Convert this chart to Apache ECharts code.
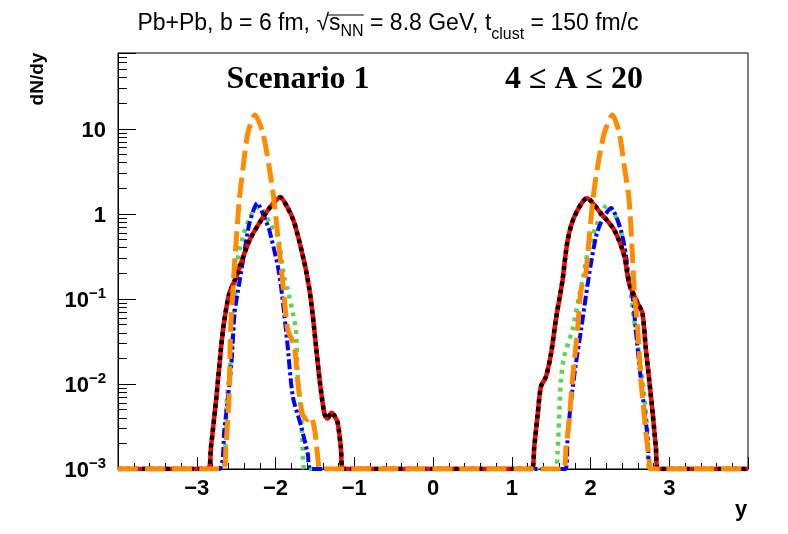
<!DOCTYPE html>
<html>
<head>
<meta charset="utf-8">
<script src="https://cdn.jsdelivr.net/npm/echarts@6/dist/echarts.min.js"></script>
<style>
  html, body { margin: 0; padding: 0; background: #fff; }
  #chart { width: 788px; height: 534px; }
</style>
</head>
<body>
<div id="chart"></div>
<script>
// dN/dy vs y, pairs [y, dN/dy]; 0 means empty bin (drawn on the floor)
var Y_MIN = 0.001, Y_MAX = 78;

var redLeft = [[-2.86,0],[-2.82,0.0018],[-2.75,0.0071],[-2.69,0.0275],[-2.65,0.056],[-2.585,0.117],
  [-2.5,0.18],[-2.44,0.26],[-2.33,0.49],[-2.18,0.85],[-2.05,1.26],[-1.94,1.57],[-1.85,1.2],
  [-1.76,0.78],[-1.63,0.26],[-1.57,0.13],[-1.53,0.068],[-1.485,0.0275],[-1.44,0.0112],
  [-1.38,0.0045],[-1.34,0.0039],[-1.29,0.0046],[-1.25,0.0042],[-1.21,0.0035],[-1.17,0.0018],[-1.14,0]];
var redRight = [[1.25,0],[1.285,0.0018],[1.33,0.0045],[1.37,0.0093],[1.435,0.0122],[1.5,0.023],
  [1.56,0.057],[1.625,0.128],[1.645,0.166],[1.71,0.49],[1.795,0.93],[1.955,1.53],[2.13,1.02],
  [2.3,0.65],[2.43,0.32],[2.49,0.153],[2.6,0.089],[2.66,0.068],[2.7,0.0275],[2.745,0.0112],
  [2.79,0.0045],[2.83,0.0018],[2.86,0]];

var orangeLeft = [[-2.66,0],[-2.63,0.0018],[-2.59,0.0071],[-2.57,0.044],[-2.54,0.128],[-2.52,0.26],
  [-2.46,1.46],[-2.415,3.3],[-2.35,9.0],[-2.26,14.6],[-2.16,8.9],[-2.08,3.55],[-2.02,1.46],
  [-1.93,0.24],[-1.89,0.106],[-1.845,0.044],[-1.76,0.0275],[-1.72,0.0112],[-1.66,0.0045],
  [-1.6,0.0038],[-1.55,0.0041],[-1.5,0.0028],[-1.46,0.0013],[-1.43,0]];
var orangeRight = [[1.65,0],[1.69,0.0018],[1.73,0.0038],[1.77,0.0112],[1.835,0.043],[1.88,0.128],
  [1.94,0.2],[1.985,0.54],[2.03,1.46],[2.09,3.6],[2.175,8.9],[2.28,14.6],[2.365,8.9],[2.43,3.6],
  [2.49,1.46],[2.535,0.29],[2.555,0.128],[2.6,0.043],[2.64,0.0112],[2.7,0.0029],[2.745,0.00126],[2.76,0]];

var blueLeft = [[-2.72,0],[-2.65,0.0029],[-2.56,0.0174],[-2.52,0.068],[-2.46,0.153],[-2.39,0.38],
  [-2.33,0.78],[-2.23,1.34],[-2.15,0.95],[-2.08,0.65],[-1.97,0.24],[-1.93,0.14],[-1.89,0.068],
  [-1.845,0.0275],[-1.78,0.0071],[-1.675,0.0032],[-1.59,0.0015],[-1.55,0]];
var blueRight = [[1.68,0],[1.71,0.0024],[1.75,0.0059],[1.815,0.0175],[1.88,0.043],[1.94,0.106],
  [2.005,0.26],[2.07,0.54],[2.13,0.78],[2.26,1.17],[2.385,0.65],[2.45,0.32],[2.49,0.153],
  [2.535,0.107],[2.575,0.043],[2.64,0.0112],[2.725,0.0024],[2.77,0]];

var greenLeft = [[-2.68,0],[-2.62,0.006],[-2.55,0.03],[-2.48,0.29],[-2.4,0.6],[-2.3,1.0],[-2.21,1.22],
  [-2.12,0.95],[-2.08,0.78],[-1.97,0.54],[-1.89,0.18],[-1.845,0.128],[-1.78,0.068],[-1.74,0.043],
  [-1.72,0.0135],[-1.675,0.0045],[-1.655,0.0018],[-1.63,0]];
var greenRight = [[1.55,0],[1.58,0.0015],[1.6,0.0038],[1.625,0.0112],[1.665,0.021],[1.77,0.043],
  [1.855,0.107],[1.9,0.166],[1.965,0.35],[2.07,0.71],[2.215,1.28],[2.34,0.85],[2.43,0.41],
  [2.555,0.056],[2.66,0.0112],[2.72,0.003],[2.75,0]];

var xTicks = [-4, -3, -2, -1, 0, 1, 2, 3, 4];

function curve(left, right) {
    var pts = [[-4, 0]].concat(left, right, [[4, 0]]);
    return pts.map(function (p) { return [p[0], Math.max(p[1], Y_MIN)]; });
}

// minor ticks of the log axis (2..9 per decade), in log10 units
var minorLog = [];
for (var n = -3; n <= 1; n++) {
    for (var k = 2; k <= 9; k++) {
        var v = Math.log10(k * Math.pow(10, n));
        if (v <= Math.log10(Y_MAX)) minorLog.push(v);
    }
}

var ctx = document.createElement('canvas').getContext('2d');
function tw(t, font) { ctx.font = font; return ctx.measureText(t).width; }

var FONT = '"Liberation Sans", Arial, sans-serif';
var tSize = 23, tSub = 16;
var pre = 'Pb+Pb, b = 6 fm, ';
var titleW = tw(pre + '\u221A' + 's', tSize + 'px ' + FONT) + tw('NN', tSub + 'px ' + FONT)
    + tw(' = 8.8 GeV, t', tSize + 'px ' + FONT) + tw('clust', tSub + 'px ' + FONT)
    + tw(' = 150 fm/c', tSize + 'px ' + FONT);
var titleX = 388 - titleW / 2;
var olX0 = titleX + tw(pre + '\u221A', tSize + 'px ' + FONT) - 1;
var olX1 = olX0 + 1 + tw('s', tSize + 'px ' + FONT) + tw('NN', tSub + 'px ' + FONT);

var myChart = echarts.init(document.getElementById('chart'));

var option = {
    animation: false,
    grid: {
        left: 118, right: 40, top: 53, bottom: 65,
        show: true, borderColor: '#000', borderWidth: 1, backgroundColor: 'transparent'
    },
    xAxis: {
        type: 'value', min: -4, max: 4, interval: 1,
        axisLine: { onZero: false, lineStyle: { color: '#000', width: 1 } },
        axisTick: { inside: true, length: 12, lineStyle: { color: '#000' } },
        minorTick: { show: true, splitNumber: 5, length: 6, lineStyle: { color: '#000' } },
        splitLine: { show: false },
        axisLabel: {
            margin: 9, color: '#000', fontFamily: FONT, fontWeight: 'bold', fontSize: 22,
            formatter: function (v) {
                if (xTicks.indexOf(v) < 1 || xTicks.indexOf(v) > xTicks.length - 2) return '';
                return v < 0 ? '\u2212' + (-v) : String(v);
            }
        }
    },
    yAxis: [{
        type: 'log', logBase: 10, min: Y_MIN, max: Y_MAX,
        axisLine: { show: true, onZero: false, lineStyle: { color: '#000', width: 1 } },
        axisTick: { inside: true, length: 18, lineStyle: { color: '#000' } },
        splitLine: { show: false },
        axisLabel: {
            margin: 12, color: '#000', fontFamily: FONT, fontWeight: 'bold', fontSize: 22,
            formatter: function (v) {
                var e = Math.log10(v), n = Math.round(e);
                if (Math.abs(e - n) > 1e-6) return '';
                if (n >= 0) return '{b|' + Math.round(v) + '}';
                return '{b|10}{sup|\u2212' + (-n) + '}';
            },
            rich: {
                b: { fontFamily: FONT, fontWeight: 'bold', fontSize: 22, lineHeight: 26, verticalAlign: 'bottom' },
                sup: { fontFamily: FONT, fontWeight: 'bold', fontSize: 15, lineHeight: 26, verticalAlign: 'top' }
            }
        }
    }, {
        type: 'value', min: -3, max: Math.log10(Y_MAX), position: 'left',
        axisLine: { show: false, onZero: false },
        axisTick: { show: true, inside: true, length: 9, customValues: minorLog, lineStyle: { color: '#000' } },
        axisLabel: { show: false },
        splitLine: { show: false }
    }],
    series: [
        { name: 'green', type: 'line', data: curve(greenLeft, greenRight), showSymbol: false, smooth: 0.25,
          lineStyle: { color: '#5dd35d', width: 4.5, type: [4, 5], cap: 'butt' } },
        { name: 'blue', type: 'line', data: curve(blueLeft, blueRight), showSymbol: false, smooth: 0.25,
          lineStyle: { color: '#0000ff', width: 4, type: [10, 3, 3, 3], cap: 'butt' } },
        { name: 'red', type: 'line', data: curve(redLeft, redRight), showSymbol: false, smooth: 0.25,
          lineStyle: { color: '#ff0000', width: 4.5 } },
        { name: 'black', type: 'line', data: curve(redLeft, redRight), showSymbol: false, smooth: 0.25,
          lineStyle: { color: '#000000', width: 4.5, type: [4, 4], cap: 'butt' } },
        { name: 'orange', type: 'line', data: curve(orangeLeft, orangeRight), showSymbol: false, smooth: 0.25,
          lineStyle: { color: '#ff8c00', width: 5, type: [20, 7], cap: 'butt' } }
    ],
    graphic: [
        {
            type: 'text', left: titleX, top: 12,
            style: {
                text: '{n|' + pre + '\u221A' + 's}{sub|NN}{n| = 8.8 GeV, t}{sub2|clust}{n| = 150 fm/c}',
                rich: {
                    n: { fontFamily: FONT, fontSize: tSize, lineHeight: 36, verticalAlign: 'bottom', padding: [0, 0, 8, 0], fill: '#000' },
                    sub: { fontFamily: FONT, fontSize: tSub, lineHeight: 36, verticalAlign: 'bottom', padding: [0, 0, 3, 0], fill: '#000' },
                    sub2: { fontFamily: FONT, fontSize: tSub, lineHeight: 36, verticalAlign: 'bottom', fill: '#000' }
                }
            }
        },
        {
            type: 'line', shape: { x1: olX0, y1: 15, x2: olX1, y2: 15 },
            style: { stroke: '#000', lineWidth: 1.2 }
        },
        {
            type: 'text', x: 38, y: 79, rotation: Math.PI / 2,
            style: { text: 'dN/dy', font: 'bold 19px ' + FONT, fill: '#000', align: 'center', verticalAlign: 'middle' }
        },
        {
            type: 'text', x: 741, y: 510,
            style: { text: 'y', font: 'bold 22px ' + FONT, fill: '#000', align: 'center', verticalAlign: 'middle' }
        },
        {
            type: 'text', x: 298, y: 80,
            style: { text: 'Scenario 1', font: 'bold 32px "Liberation Serif", serif', fill: '#000', align: 'center', verticalAlign: 'middle' }
        },
        {
            type: 'text', x: 574, y: 80,
            style: { text: '4 \u2264 A \u2264 20', font: 'bold 32px "Liberation Serif", serif', fill: '#000', align: 'center', verticalAlign: 'middle' }
        }
    ]
};

myChart.setOption(option);
</script>
</body>
</html>
